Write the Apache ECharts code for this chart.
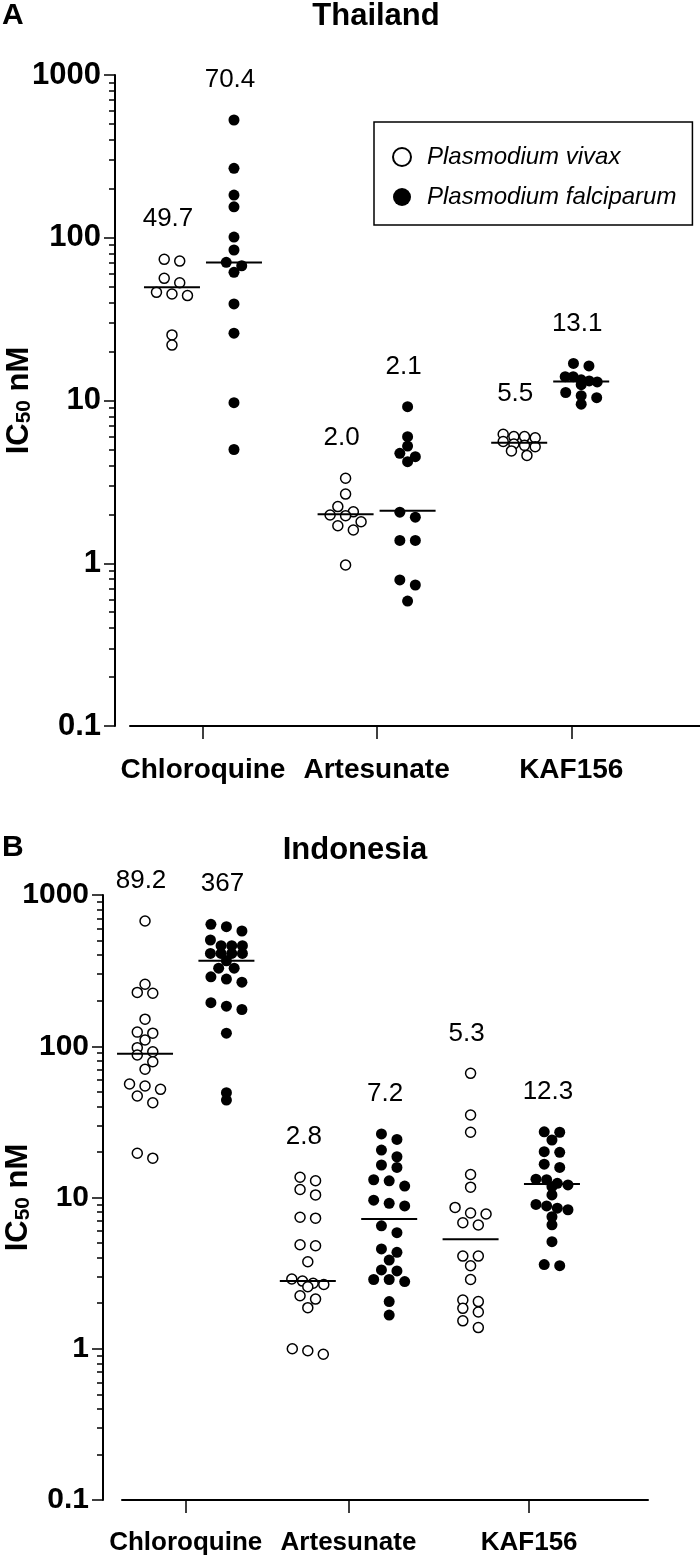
<!DOCTYPE html>
<html>
<head>
<meta charset="utf-8">
<title>IC50 – Thailand / Indonesia</title>
<script src="https://cdn.jsdelivr.net/npm/echarts@6/dist/echarts.min.js"></script>
<style>
  html, body { margin: 0; padding: 0; background: #fff; }
  #chart { width: 700px; height: 1558px; }
</style>
</head>
<body>
<div id="chart"></div>
<script>
  const FONT = "'Liberation Sans', Arial, Helvetica, sans-serif"

  // x categories and y ticks
  const drugs = ['Chloroquine', 'Artesunate', 'KAF156']
  const yTicks = [0.1, 1, 10, 100, 1000]

  // A: Thailand, IC50 nM per isolate
  const thVivaxCQ = [73.7, 71.9, 56.3, 52.9, 46.2, 45.1, 44.1, 25.3, 21.9]
  const thFalcCQ = [529, 267, 183, 155, 101, 84.1, 70.6, 67.3, 61.3, 39.2, 25.9, 9.7, 5.0]
  const thVivaxAS = [3.33, 2.66, 2.23, 2.07, 1.98, 1.96, 1.8, 1.7, 1.6, 0.975]
  const thFalcAS = [9.16, 5.99, 5.25, 4.74, 4.52, 4.21, 2.06, 1.92, 1.38, 1.38, 0.79, 0.735, 0.586]
  const thVivaxKAF = [6.2, 6.0, 6.0, 5.9, 5.6, 5.4, 5.3, 5.2, 4.9, 4.6]
  const thFalcKAF = [16.9, 16.3, 14.0, 14.0, 13.4, 13.2, 13.0, 12.5, 11.2, 10.7, 10.4, 9.5]
  const thMedVivax = [49.7, 2.0, 5.5]
  const thMedFalc = [70.4, 2.1, 13.1]

  // B: Indonesia
  const idVivaxCQ = [673, 257, 227, 224, 151, 124, 122, 110, 97.9, 92, 87.5, 79, 70.4, 56.3, 54.6, 51.9, 46.9, 42.3, 19.6, 18.2]
  const idFalcCQ = [640, 617, 578, 504, 462, 462, 462, 411, 411, 411, 411, 367, 328, 328, 288, 278, 265, 194, 184, 175, 122, 49.3, 44.1]
  const idVivaxAS = [13.6, 12.9, 11.3, 10.4, 7.4, 7.3, 4.87, 4.8, 3.76, 2.89, 2.8, 2.71, 2.66, 2.57, 2.24, 2.13, 1.87, 1.0, 0.97, 0.92]
  const idFalcAS = [26.3, 24.2, 20.6, 18.6, 16.4, 15.8, 13.1, 12.9, 11.9, 9.6, 9.15, 8.8, 6.5, 5.85, 4.57, 4.34, 3.86, 3.32, 3.27, 2.87, 2.87, 2.78, 2.05, 1.67]
  const idVivaxKAF = [66.2, 35.1, 27, 14.2, 11.7, 8.6, 7.9, 7.78, 6.81, 6.58, 4.1, 4.1, 3.54, 2.87, 2.1, 2.05, 1.85, 1.75, 1.53, 1.38]
  const idFalcKAF = [27.2, 27, 24, 20.1, 19.9, 16.6, 15.8, 13.2, 13.1, 12.4, 12.1, 11.8, 10.4, 9.0, 8.8, 8.5, 8.3, 7.46, 6.6, 5.1, 3.6, 3.54]
  const idMedVivax = [89.2, 2.8, 5.3]
  const idMedFalc = [367, 7.2, 12.3]

  // layout of the two panels
  const panels = [
    {
      tag: 'A', title: 'Thailand', tagY: 16, titleX: 376, titleY: 16,
      vivax: [thVivaxCQ, thVivaxAS, thVivaxKAF], falc: [thFalcCQ, thFalcAS, thFalcKAF],
      medVivax: thMedVivax, medFalc: thMedFalc,
      grid: { left: 130, top: 75, width: 570, height: 651 }, yOffset: 15,
      xMin: -0.677, xMax: 8.516, vivaxX: [0, 2.8, 5.6], falcX: [1, 3.8, 6.6], tickX: [0.5, 3.3, 6.44],
      tickFont: 31, catFont: 28, nameGap: 80
    },
    {
      tag: 'B', title: 'Indonesia', tagY: 848, titleX: 355, titleY: 850,
      vivax: [idVivaxCQ, idVivaxAS, idVivaxKAF], falc: [idFalcCQ, idFalcAS, idFalcKAF],
      medVivax: idMedVivax, medFalc: idMedFalc,
      grid: { left: 122, top: 895, width: 526, height: 605 }, yOffset: 19,
      xMin: -0.283, xMax: 6.18, vivaxX: [0, 2, 4], falcX: [1, 3, 5], tickX: [0.5, 2.5, 4.72],
      tickFont: 30, catFont: 26, nameGap: 69
    }
  ]

  // minor ticks 2..9 of every decade, in log10 units
  const minorTicks = []
  for (let d = -1; d < 3; d++) {
    for (let k = 2; k < 10; k++) minorTicks.push(d + Math.log10(k))
  }

  // Prism-like scatter: points that sit at about the same height share a centred row
  function swarm(values, center, pxPerUnit, decadePx) {
    const sorted = values.slice().sort((a, b) => b - a)
    const out = []
    let i = 0
    while (i < sorted.length) {
      let j = i + 1
      while (j < sorted.length && Math.log10(sorted[i] / sorted[j]) * decadePx < 7) j++
      const n = j - i
      const step = (n > 1 ? Math.min(15.5, 32 / (n - 1)) : 0) / pxPerUnit
      for (let k = 0; k < n; k++) out.push([center + (k - (n - 1) / 2) * step, sorted[i + k]])
      i = j
    }
    return out
  }

  const fmtMed = (v) => (v >= 100 ? v.toFixed(0) : v.toFixed(1))

  const grid = []
  const xAxis = []
  const yAxis = []
  const series = []
  const graphic = []

  panels.forEach((p, i) => {
    grid.push(Object.assign({ containLabel: false, outerBoundsMode: 'none' }, p.grid))
    const pxPerUnit = p.grid.width / (p.xMax - p.xMin)
    const decadePx = p.grid.height / 4

    xAxis.push({
      type: 'value', gridIndex: i, min: p.xMin, max: p.xMax,
      axisLine: { show: true, onZero: false, lineStyle: { color: '#000', width: 2 } },
      axisTick: { show: true, length: 13, customValues: p.tickX, lineStyle: { color: '#000', width: 1.5 } },
      axisLabel: {
        customValues: p.tickX, margin: 30, color: '#000', fontFamily: FONT,
        fontWeight: 'bold', fontSize: p.catFont,
        formatter: (v) => drugs[p.tickX.findIndex((t) => Math.abs(t - v) < 1e-6)] || ''
      },
      splitLine: { show: false }
    })

    yAxis.push({
      type: 'log', logBase: 10, gridIndex: i, min: yTicks[0], max: yTicks[yTicks.length - 1],
      position: 'left', offset: p.yOffset,
      axisLine: { show: true, onZero: false, lineStyle: { color: '#000', width: 2 } },
      axisTick: { show: true, length: 11, lineStyle: { color: '#000', width: 1.5 } },
      axisLabel: {
        margin: 14, color: '#000', fontFamily: FONT, fontWeight: 'bold', fontSize: p.tickFont,
        formatter: (v) => String(Number(v.toPrecision(6)))
      },
      splitLine: { show: false },
      name: '{a|IC}{b|50}{a| nM}', nameLocation: 'middle', nameRotate: 90, nameGap: p.nameGap,
      nameMoveOverlap: false,
      nameTextStyle: {
        color: '#000',
        rich: {
          a: { fontFamily: FONT, fontWeight: 'bold', fontSize: 31, lineHeight: 34, verticalAlign: 'bottom', color: '#000' },
          b: { fontFamily: FONT, fontWeight: 'bold', fontSize: 21, lineHeight: 16, verticalAlign: 'bottom', color: '#000' }
        }
      }
    })
    // second axis only for the 2..9 minor ticks
    yAxis.push({
      type: 'value', gridIndex: i, min: -1, max: 3, position: 'left', offset: p.yOffset,
      axisLine: { show: false, onZero: false },
      axisTick: { show: true, length: 6, customValues: minorTicks, lineStyle: { color: '#000', width: 1.5 } },
      axisLabel: { show: false },
      splitLine: { show: false }
    })

    const vivaxPts = []
    const falcPts = []
    p.vivax.forEach((vals, g) => vivaxPts.push(...swarm(vals, p.vivaxX[g], pxPerUnit, decadePx)))
    p.falc.forEach((vals, g) => falcPts.push(...swarm(vals, p.falcX[g], pxPerUnit, decadePx)))

    series.push({
      name: 'Plasmodium vivax', type: 'scatter', xAxisIndex: i, yAxisIndex: i * 2,
      symbol: 'circle', symbolSize: 10,
      itemStyle: { color: '#fff', borderColor: '#000', borderWidth: 1.5, opacity: 1 },
      emphasis: { disabled: true },
      data: vivaxPts
    })
    series.push({
      name: 'Plasmodium falciparum', type: 'scatter', xAxisIndex: i, yAxisIndex: i * 2,
      symbol: 'circle', symbolSize: 11,
      itemStyle: { color: '#000', borderColor: '#000', borderWidth: 0, opacity: 1 },
      emphasis: { disabled: true },
      data: falcPts
    })

    // median bar + median value above each column
    const medRows = []
    p.vivax.forEach((vals, g) => medRows.push([p.vivaxX[g], p.medVivax[g], Math.max(...vals), p.medVivax[g]]))
    p.falc.forEach((vals, g) => medRows.push([p.falcX[g], p.medFalc[g], Math.max(...vals), p.medFalc[g]]))
    series.push({
      type: 'custom', xAxisIndex: i, yAxisIndex: i * 2, z: 5, silent: true,
      data: medRows,
      renderItem: (params, api) => {
        const m = api.coord([api.value(0), api.value(1)])
        const top = api.coord([api.value(0), api.value(2)])
        return {
          type: 'group',
          children: [
            { type: 'line', shape: { x1: m[0] - 28, y1: m[1], x2: m[0] + 28, y2: m[1] }, style: { stroke: '#000', lineWidth: 2 } },
            {
              type: 'text', x: top[0] - 4, y: top[1] - 40,
              style: { text: fmtMed(api.value(3)), font: '26px ' + FONT, fill: '#000', align: 'center', verticalAlign: 'middle' }
            }
          ]
        }
      }
    })

    graphic.push({
      type: 'text', left: 2, top: p.tagY - 15,
      style: { text: p.tag, font: 'bold 30px ' + FONT, fill: '#000' }
    })
    graphic.push({
      type: 'text', x: p.titleX, y: p.titleY,
      style: { text: p.title, font: 'bold 31px ' + FONT, fill: '#000', align: 'center', verticalAlign: 'middle' }
    })
  })

  const myChart = echarts.init(document.getElementById('chart'), null, { renderer: 'canvas' })
  myChart.setOption({
    backgroundColor: '#fff',
    animation: false,
    grid,
    xAxis,
    yAxis,
    series,
    graphic,
    legend: {
      orient: 'vertical', left: 374, top: 122,
      data: [{ name: 'Plasmodium vivax', icon: 'circle' }, { name: 'Plasmodium falciparum', icon: 'circle' }],
      itemWidth: 40, itemHeight: 18, itemGap: 14,
      padding: [22, 16, 15, 18],
      borderColor: '#000', borderWidth: 1.5, borderRadius: 0,
      selectedMode: false,
      textStyle: { fontFamily: FONT, fontStyle: 'italic', fontSize: 24, lineHeight: 26, color: '#000' }
    }
  })
</script>
</body>
</html>
